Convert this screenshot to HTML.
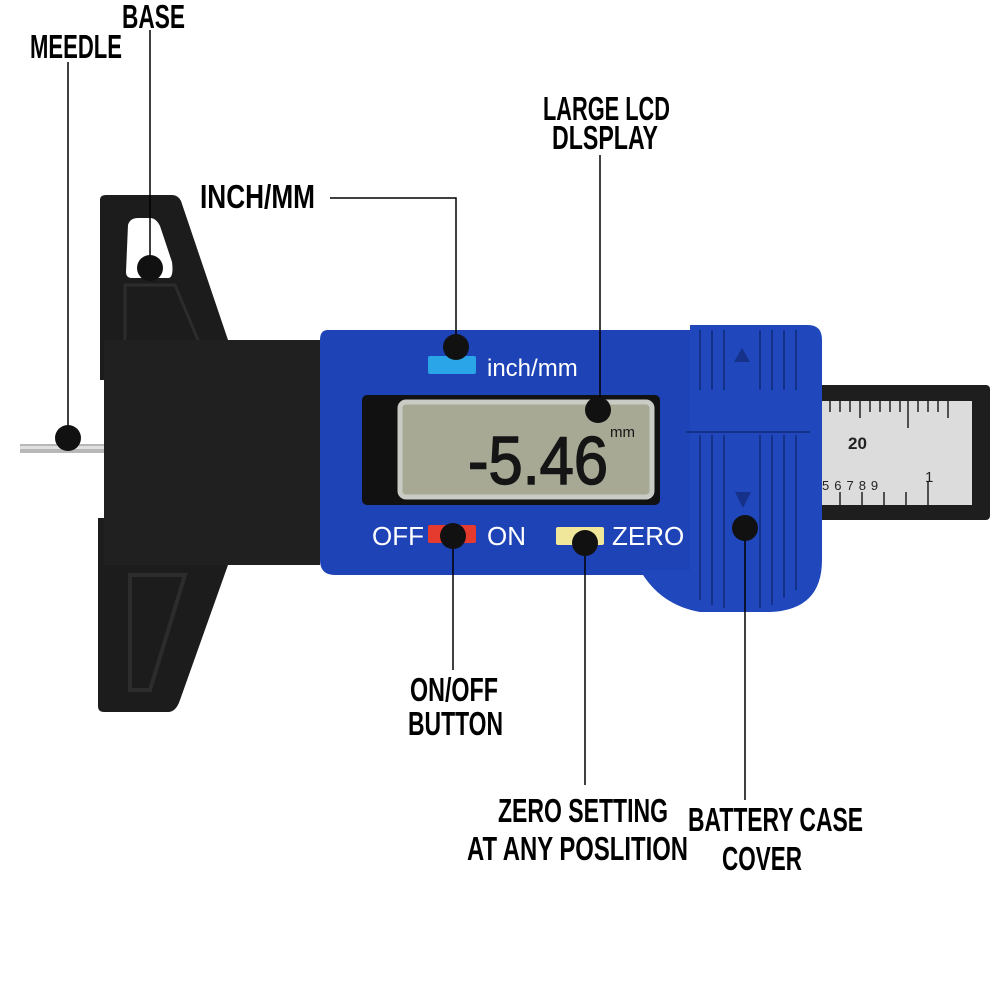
<!DOCTYPE html>
<html><head><meta charset="utf-8"><style>
html,body{margin:0;padding:0;background:#fff;}
svg{display:block;}
.l{font-family:"Liberation Sans Narrow","Liberation Sans",sans-serif;font-weight:bold;font-size:33px;fill:#000;}
</style></head><body>
<svg width="1000" height="1000" viewBox="0 0 1000 1000" xmlns="http://www.w3.org/2000/svg">
<rect x="20" y="444" width="86" height="9" fill="#b8b8b8"/>
<rect x="20" y="446" width="86" height="3" fill="#e0e0e0"/>
<path d="M100 200 Q100 195 106 195 L172 195 Q178 195 181 201 L228 340 L320 340 L320 565 L228 565 L180 700 Q176 712 168 712 L104 712 Q98 712 98 706 L98 518 L104 518 L104 380 L100 380 Z" fill="#1c1c1c"/>
<path d="M128 225 Q130 218 138 218 L150 218 Q156 218 160 226 L172 262 Q174 278 168 278 L132 278 Q126 278 126 272 Z" fill="#fff"/>
<path d="M125 285 L175 285 L200 345 L125 345 Z" fill="none" stroke="#2c2c2c" stroke-width="3"/>
<path d="M130 575 L185 575 L150 690 L130 690 Z" fill="none" stroke="#2c2c2c" stroke-width="4"/>
<rect x="104" y="340" width="216" height="225" fill="#202020"/>
<rect x="815" y="385" width="175" height="135" rx="4" fill="#1e1e1e"/>
<rect x="822" y="401" width="150" height="104" fill="#dcdcdc"/>
<g stroke="#222" stroke-width="1.5">
<line x1="830" y1="401" x2="830" y2="412"/><line x1="840" y1="401" x2="840" y2="412"/><line x1="850" y1="401" x2="850" y2="412"/><line x1="860" y1="401" x2="860" y2="418"/><line x1="870" y1="401" x2="870" y2="412"/><line x1="880" y1="401" x2="880" y2="412"/><line x1="890" y1="401" x2="890" y2="412"/><line x1="900" y1="401" x2="900" y2="412"/><line x1="908" y1="401" x2="908" y2="428"/><line x1="918" y1="401" x2="918" y2="412"/><line x1="928" y1="401" x2="928" y2="412"/><line x1="938" y1="401" x2="938" y2="412"/><line x1="948" y1="401" x2="948" y2="418"/>
<line x1="840" y1="492" x2="840" y2="505"/><line x1="862" y1="492" x2="862" y2="505"/><line x1="884" y1="492" x2="884" y2="505"/><line x1="906" y1="492" x2="906" y2="505"/><line x1="928" y1="482" x2="928" y2="505"/>
</g>
<text x="848" y="449" font-family="Liberation Sans,sans-serif" font-size="17" font-weight="bold" fill="#222">20</text>
<text x="822" y="490" font-family="Liberation Sans,sans-serif" font-size="13" fill="#222" letter-spacing="5">56789</text>
<text x="925" y="482" font-family="Liberation Sans,sans-serif" font-size="15" fill="#222">1</text>
<path d="M328 330 L700 330 L700 575 L335 575 Q320 575 320 560 L320 340 Q320 330 328 330 Z" fill="#1e43b6"/>
<path d="M690 325 L808 325 Q822 325 822 340 L822 560 Q822 610 770 612 L700 612 Q660 605 640 570 L690 570 Z" fill="#2048bc"/>
<g stroke="#15318a" stroke-width="2">
<line x1="700" y1="330" x2="700" y2="390"/><line x1="712" y1="330" x2="712" y2="390"/><line x1="724" y1="330" x2="724" y2="390"/><line x1="760" y1="330" x2="760" y2="390"/><line x1="772" y1="330" x2="772" y2="390"/><line x1="784" y1="330" x2="784" y2="390"/><line x1="796" y1="330" x2="796" y2="390"/>
<line x1="700" y1="435" x2="700" y2="600"/><line x1="712" y1="435" x2="712" y2="605"/><line x1="724" y1="435" x2="724" y2="608"/><line x1="760" y1="435" x2="760" y2="608"/><line x1="772" y1="435" x2="772" y2="605"/><line x1="784" y1="435" x2="784" y2="598"/><line x1="796" y1="435" x2="796" y2="590"/>
</g>
<line x1="686" y1="432" x2="810" y2="432" stroke="#15318a" stroke-width="2"/>
<polygon points="742,348 734,362 750,362" fill="#15318a"/>
<polygon points="735,492 751,492 743,508" fill="#15318a"/>
<rect x="428" y="356" width="48" height="18" rx="2" fill="#2aa5e8"/>
<text x="487" y="376" font-family="Liberation Sans Narrow,Liberation Sans,sans-serif" font-size="24" fill="#fff">inch/mm</text>
<rect x="362" y="395" width="298" height="110" rx="5" fill="#111"/>
<rect x="400" y="402" width="252" height="95" rx="6" fill="#a7a995" stroke="#c8ccc4" stroke-width="5"/>
<text x="468" y="484" font-family="Liberation Sans Narrow,Liberation Sans,sans-serif" font-size="68" fill="#151515" textLength="140" lengthAdjust="spacingAndGlyphs" stroke="#151515" stroke-width="1.5">-5.46</text>
<text x="610" y="437" font-family="Liberation Sans Narrow,Liberation Sans,sans-serif" font-size="15" fill="#151515">mm</text>
<text x="372" y="545" font-family="Liberation Sans Narrow,Liberation Sans,sans-serif" font-size="26" fill="#fff">OFF</text>
<rect x="428" y="525" width="48" height="18" rx="2" fill="#e53a2e"/>
<text x="487" y="545" font-family="Liberation Sans Narrow,Liberation Sans,sans-serif" font-size="26" fill="#fff">ON</text>
<rect x="556" y="527" width="48" height="18" rx="2" fill="#f0e79a"/>
<text x="612" y="545" font-family="Liberation Sans Narrow,Liberation Sans,sans-serif" font-size="26" fill="#fff">ZERO</text>
<g stroke="#000" stroke-width="1.5" fill="none">
<line x1="68" y1="62" x2="68" y2="438"/>
<line x1="150" y1="30" x2="150" y2="268"/>
<polyline points="330,198 456,198 456,347"/>
<line x1="600" y1="155" x2="600" y2="410"/>
<line x1="453" y1="536" x2="453" y2="670"/>
<line x1="585" y1="543" x2="585" y2="785"/>
<line x1="745" y1="528" x2="745" y2="800"/>
</g>
<g fill="#111">
<circle cx="68" cy="438" r="13"/><circle cx="150" cy="268" r="13"/><circle cx="456" cy="347" r="13"/><circle cx="598" cy="410" r="13"/><circle cx="453" cy="536" r="13"/><circle cx="585" cy="543" r="13"/><circle cx="745" cy="528" r="13"/>
</g>
<text class="l" x="30" y="58" textLength="92" lengthAdjust="spacingAndGlyphs">MEEDLE</text>
<text class="l" x="122" y="28" textLength="63" lengthAdjust="spacingAndGlyphs">BASE</text>
<text class="l" x="200" y="208" textLength="115" lengthAdjust="spacingAndGlyphs">INCH/MM</text>
<text class="l" x="543" y="120" textLength="127" lengthAdjust="spacingAndGlyphs">LARGE LCD</text>
<text class="l" x="552" y="149" textLength="106" lengthAdjust="spacingAndGlyphs">DLSPLAY</text>
<text class="l" x="410" y="701" textLength="88" lengthAdjust="spacingAndGlyphs">ON/OFF</text>
<text class="l" x="408" y="735" textLength="95" lengthAdjust="spacingAndGlyphs">BUTTON</text>
<text class="l" x="498" y="822" textLength="170" lengthAdjust="spacingAndGlyphs">ZERO SETTING</text>
<text class="l" x="467" y="860" textLength="221" lengthAdjust="spacingAndGlyphs">AT ANY POSLITION</text>
<text class="l" x="688" y="831" textLength="175" lengthAdjust="spacingAndGlyphs">BATTERY CASE</text>
<text class="l" x="722" y="870" textLength="80" lengthAdjust="spacingAndGlyphs">COVER</text>
</svg>
</body></html>
